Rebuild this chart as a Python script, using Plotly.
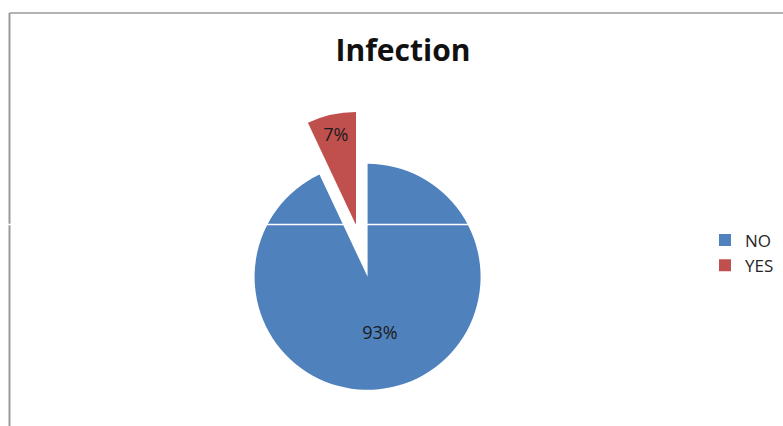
import plotly.graph_objects as go

# Data
labels = ["NO", "YES"]
values = [93, 7]
colors = ["#4F81BD", "#C0504D"]
title_text = "Infection"

W, H = 783, 426

# Pie geometry (pixels): the big slice is pulled away, leaving the small one at the box centre
pull_no = 0.47
radius = 113
center_x, center_y = 356, 225
box_h = 2 * radius * (1 + pull_no)
box_w = box_h + 10

fig = go.Figure(
    go.Pie(
        labels=labels,
        values=values,
        marker=dict(colors=colors, line=dict(width=0)),
        sort=False,
        direction="clockwise",
        rotation=0,
        pull=[pull_no, 0],
        textinfo="percent",
        textposition="inside",
        insidetextorientation="horizontal",
        textfont=dict(family="Open Sans, sans-serif", size=18, color="#1b1b1b"),
        hoverinfo="label+percent",
        domain=dict(
            x=[(center_x - box_w / 2) / W, (center_x + box_w / 2) / W],
            y=[1 - (center_y + box_h / 2) / H, 1 - (center_y - box_h / 2) / H],
        ),
    )
)

fig.update_layout(
    width=W,
    height=H,
    margin=dict(l=0, r=0, t=0, b=0),
    paper_bgcolor="white",
    plot_bgcolor="white",
    title=dict(
        text="<b>" + title_text + "</b>",
        x=403 / W,
        xanchor="center",
        y=1 - 50 / H,
        yanchor="middle",
        font=dict(family="Open Sans, sans-serif", size=30, color="#111111"),
    ),
    legend=dict(
        x=705 / W,
        xanchor="left",
        y=1 - 253 / H,
        yanchor="middle",
        font=dict(family="Open Sans, sans-serif", size=17, color="#262626"),
        bgcolor="rgba(0,0,0,0)",
    ),
    shapes=[
        # chart frame
        dict(type="line", xref="paper", yref="paper",
             x0=9.5 / W, x1=1.02, y0=1 - 13 / H, y1=1 - 13 / H,
             line=dict(color="#9a9a9a", width=1.5)),
        dict(type="line", xref="paper", yref="paper",
             x0=9.5 / W, x1=9.5 / W, y0=1 - 13 / H, y1=-0.02,
             line=dict(color="#9a9a9a", width=2)),
        # thin white seam across the chart
        dict(type="line", xref="paper", yref="paper", layer="above",
             x0=0, x1=1, y0=1 - 224.5 / H, y1=1 - 224.5 / H,
             line=dict(color="white", width=1.5)),
    ],
)

fig.write_html("out.html")
